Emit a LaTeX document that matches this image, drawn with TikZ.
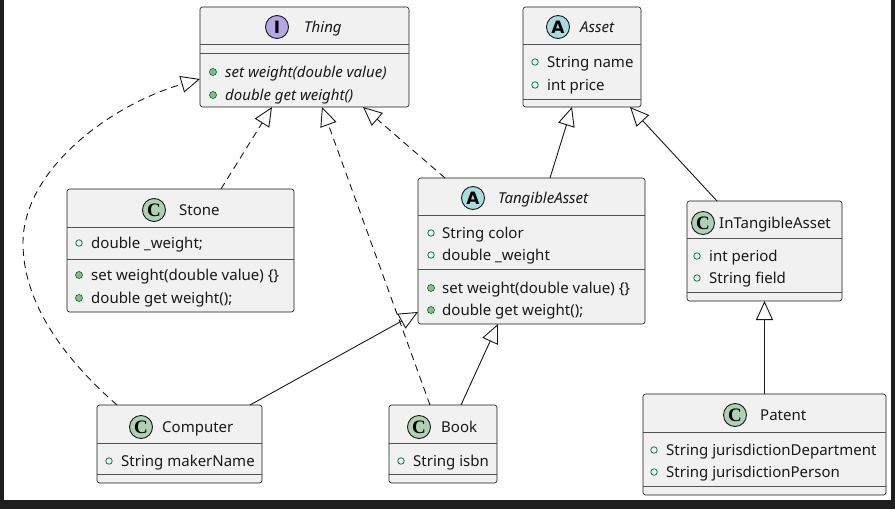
\documentclass[tikz,border=0pt]{standalone}
\usepackage{fontspec}
\setmainfont{Noto Sans}
\newfontfamily\iconserif{Liberation Serif}
\newfontfamily\iconsans{DejaVu Sans}
\usetikzlibrary{arrows.meta}
\definecolor{boxfill}{HTML}{F1F1F1}
\definecolor{ink}{HTML}{181818}
\definecolor{cgreen}{HTML}{ADD1B2}
\definecolor{ateal}{HTML}{A9DCDF}
\definecolor{ipurple}{HTML}{B4A7E5}
\definecolor{visgreen}{HTML}{038048}
\definecolor{visfill}{HTML}{84BE84}
\definecolor{framedark}{HTML}{1E1E1E}
\tikzset{
  classbox/.style={draw=ink, line width=0.6pt, fill=boxfill, rounded corners=2.5pt, inner sep=0pt, outer sep=0pt},
  sepline/.style={draw=ink!75, line width=0.6pt},
  iconcirc/.style={circle, draw=ink, line width=0.9pt, minimum size=23pt, inner sep=0pt},
  ciconC/.style={iconcirc, fill=cgreen, font=\iconserif\bfseries\fontsize{19}{19}\selectfont},
  ciconA/.style={iconcirc, fill=ateal, font=\iconsans\bfseries\fontsize{17}{17}\selectfont},
  ciconI/.style={iconcirc, fill=ipurple, font=\iconsans\bfseries\fontsize{17}{17}\selectfont},
  txt/.style={anchor=base west, inner sep=0pt, font=\fontsize{15}{18}\selectfont, text=black!90},
  itxt/.style={txt, font=\fontsize{15}{18}\selectfont\itshape},
  attrmark/.style={circle, draw=visgreen, line width=0.8pt, minimum size=6.5pt, inner sep=0pt},
  methmark/.style={circle, draw=visgreen!80!black, fill=visfill, line width=0.6pt, minimum size=7pt, inner sep=0pt},
  realize/.style={draw=ink, line width=0.9pt, dash pattern=on 7pt off 5pt, -{Triangle[open, length=19pt, width=17pt]}},
  extend/.style={draw=ink, line width=0.9pt, -{Triangle[open, length=19pt, width=17pt]}},
}
\begin{document}
\begin{tikzpicture}[x=1pt, y=-1pt]
\useasboundingbox (0,0) rectangle (895,509);
\fill[framedark] (0,0) rectangle (895,509);
\fill[white] (4,0) rectangle (891,500);

% Thing
\node[classbox, minimum width=209pt, minimum height=100pt] (thing) at (304.5,57) {};
\node[ciconI] (thingicon) at (277,27) {I};
\node[itxt] (thingname) at (304,32.5) {Thing};
\draw[sepline] (thing.west |- 0,44) -- (thing.east |- 0,44);
\draw[sepline] (thing.west |- 0,53) -- (thing.east |- 0,53);
\node[methmark] (thingm1) at (213,72) {};
\node[itxt] (thingm1t) at (225,77.5) {set weight(double value)};
\node[methmark] (thingm2) at (213,95) {};
\node[itxt] (thingm2t) at (225,100.5) {double get weight()};

% Asset
\node[classbox, minimum width=118pt, minimum height=100pt] (asset) at (582,57) {};
\node[ciconA] (asseticon) at (558,27) {A};
\node[itxt] (assetname) at (580,32.5) {Asset};
\draw[sepline] (asset.west |- 0,44) -- (asset.east |- 0,44);
\draw[sepline] (asset.west |- 0,99) -- (asset.east |- 0,99);
\node[attrmark] (asseta1) at (535,62) {};
\node[txt] (asseta1t) at (547,67.5) {String name};
\node[attrmark] (asseta2) at (535,85) {};
\node[txt] (asseta2t) at (547,90.5) {int price};

% Stone
\node[classbox, minimum width=227pt, minimum height=123pt] (stone) at (180.5,250.5) {};
\node[ciconC] (stoneicon) at (154,210) {C};
\node[txt] (stonename) at (179,215.5) {Stone};
\draw[sepline] (stone.west |- 0,227) -- (stone.east |- 0,227);
\draw[sepline] (stone.west |- 0,259) -- (stone.east |- 0,259);
\node[attrmark] (stonea1) at (79,243) {};
\node[txt] (stonea1t) at (91,248.5) {double \_weight;};
\node[methmark] (stonem1) at (79,275) {};
\node[txt] (stonem1t) at (91,280.5) {set weight(double value) \{\}};
\node[methmark] (stonem2) at (79,298) {};
\node[txt] (stonem2t) at (91,303.5) {double get weight();};

% TangibleAsset
\node[classbox, minimum width=227pt, minimum height=146pt] (ta) at (531.5,251) {};
\node[ciconA] (taicon) at (473,198) {A};
\node[itxt] (taname) at (498,203.5) {TangibleAsset};
\draw[sepline] (ta.west |- 0,215) -- (ta.east |- 0,215);
\draw[sepline] (ta.west |- 0,269) -- (ta.east |- 0,269);
\node[attrmark] (taa1) at (431,233) {};
\node[txt] (taa1t) at (442,238.5) {String color};
\node[attrmark] (taa2) at (431,255) {};
\node[txt] (taa2t) at (442,260.5) {double \_weight};
\node[methmark] (tam1) at (431,288) {};
\node[txt] (tam1t) at (442,293.5) {set weight(double value) \{\}};
\node[methmark] (tam2) at (431,310) {};
\node[txt] (tam2t) at (442,315.5) {double get weight();};

% InTangibleAsset
\node[classbox, minimum width=155pt, minimum height=100pt] (ita) at (764.5,251) {};
\node[ciconC] (itaicon) at (703,223) {C};
\node[txt] (itaname) at (719,228.5) {InTangibleAsset};
\draw[sepline] (ita.west |- 0,238) -- (ita.east |- 0,238);
\draw[sepline] (ita.west |- 0,292) -- (ita.east |- 0,292);
\node[attrmark] (itaa1) at (697,256) {};
\node[txt] (itaa1t) at (709,261.5) {int period};
\node[attrmark] (itaa2) at (697,278) {};
\node[txt] (itaa2t) at (709,283.5) {String field};

% Computer
\node[classbox, minimum width=165pt, minimum height=78pt] (computer) at (179.5,444) {};
\node[ciconC] (compicon) at (141,427) {C};
\node[txt] (compname) at (162,432.5) {Computer};
\draw[sepline] (computer.west |- 0,443) -- (computer.east |- 0,443);
\draw[sepline] (computer.west |- 0,474) -- (computer.east |- 0,474);
\node[attrmark] (compa1) at (109,461) {};
\node[txt] (compa1t) at (121,466.5) {String makerName};

% Book
\node[classbox, minimum width=108pt, minimum height=78pt] (book) at (443,444) {};
\node[ciconC] (bookicon) at (419,427) {C};
\node[txt] (bookname) at (441,432.5) {Book};
\draw[sepline] (book.west |- 0,443) -- (book.east |- 0,443);
\draw[sepline] (book.west |- 0,474) -- (book.east |- 0,474);
\node[attrmark] (booka1) at (401,461) {};
\node[txt] (booka1t) at (413,466.5) {String isbn};

% Patent
\node[classbox, minimum width=243pt, minimum height=101pt] (patent) at (764.5,444.5) {};
\node[ciconC] (paticon) at (735,415) {C};
\node[txt] (patname) at (760,420.5) {Patent};
\draw[sepline] (patent.west |- 0,432) -- (patent.east |- 0,432);
\draw[sepline] (patent.west |- 0,486) -- (patent.east |- 0,486);
\node[attrmark] (pata1) at (654,450) {};
\node[txt] (pata1t) at (666,455.5) {String jurisdictionDepartment};
\node[attrmark] (pata2) at (654,472) {};
\node[txt] (pata2t) at (666,477.5) {String jurisdictionPerson};

% Connectors
\draw[realize] ([xshift=40.5pt]stone.north) -- ([xshift=-32.5pt]thing.south);
\draw[realize] ([xshift=-13pt]book.north) -- ([xshift=17.5pt]thing.south);
\draw[realize] ([xshift=-86.5pt]ta.north) -- ([xshift=58.5pt]thing.south);
\coordinate (loopleft) at (23,243);
\draw[realize] ([xshift=-62.5pt]computer.north) .. controls (60,355) and (23,300) .. (loopleft)
  .. controls (23,170) and (110,105) .. ([yshift=-22pt]thing.west);
\draw[extend] ([xshift=18.5pt]ta.north) -- ([xshift=-10pt]asset.south);
\draw[extend] ([xshift=-47.5pt]ita.north) -- ([xshift=48pt]asset.south);
\draw[extend] ([xshift=70.5pt]computer.north) -- ([yshift=-61pt]ta.west);
\draw[extend] ([xshift=18pt]book.north) -- ([xshift=-33.5pt]ta.south);
\draw[extend] (patent.north) -- (ita.south);
\end{tikzpicture}
\end{document}
